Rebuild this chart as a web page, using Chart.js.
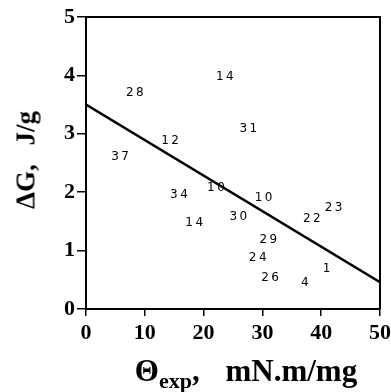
<!DOCTYPE html>
<html>
<head>
<meta charset="utf-8">
<script src="https://cdn.jsdelivr.net/npm/chart.js@4.4.1/dist/chart.umd.min.js"></script>
<style>
    html, body { margin: 0; padding: 0; background: #fff; }
    #wrap { position: relative; width: 391px; height: 392px; }
    #chart { position: absolute; left: 0; top: 0; }
    .axis-title {
        position: absolute;
        font: bold 27px "Liberation Serif", "Times New Roman", serif;
        color: #000;
        white-space: nowrap;
    }
    #yTitle {
        left: 26px; top: 160px;
        transform: translate(-50%, -50%) rotate(-90deg);
        word-spacing: 12px;
    }
    #xTitle {
        left: 246px; top: 371px;
        font-size: 31px;
        transform: translate(-50%, -50%);
        word-spacing: 18px;
    }
    #xTitle sub { font-size: 22px; vertical-align: -7px; line-height: 0; }
</style>
</head>
<body>
<div id="wrap">
    <canvas id="chart" width="391" height="392"></canvas>
    <div id="yTitle" class="axis-title">ΔG, J/g</div>
    <div id="xTitle" class="axis-title">Θ<sub>exp</sub>, mN.m/mg</div>
</div>
<script>
// sample numbers written at each point
const pointLabels = ['28', '14', '12', '37', '34', '10', '14', '30', '10', '22', '23', '29', '24', '26', '4', '1', '31'];
const thetaExp = [8.3, 23.6, 14.3, 5.8, 15.8, 22.1, 18.4, 25.9, 30.2, 38.4, 42.1, 31.0, 29.2, 31.3, 37.2, 40.9, 27.6];
const deltaG = [3.70, 3.97, 2.88, 2.60, 1.95, 2.08, 1.48, 1.57, 1.91, 1.55, 1.74, 1.18, 0.87, 0.54, 0.45, 0.68, 3.09];

// regression line end points
const fitTheta = [0, 50];
const fitDeltaG = [3.5, 0.46];

const xTicks = [0, 10, 20, 30, 40, 50];
const yTicks = [0, 1, 2, 3, 4, 5];

const tickFont = { family: 'Liberation Serif', weight: 'bold', size: 22 };

// draws the sample number centred on each (hidden) point
const numberLabels = {
    id: 'numberLabels',
    afterDatasetsDraw(chart) {
        const ctx = chart.ctx;
        const meta = chart.getDatasetMeta(0);
        const spacing = 2.5;
        ctx.save();
        ctx.font = '12px "DejaVu Sans", sans-serif';
        ctx.fillStyle = '#000';
        ctx.textBaseline = 'middle';
        ctx.textAlign = 'left';
        meta.data.forEach((pt, i) => {
            const txt = pointLabels[i];
            let w = 0;
            for (const ch of txt) w += ctx.measureText(ch).width;
            w += spacing * (txt.length - 1);
            let x = pt.x - w / 2;
            for (const ch of txt) {
                ctx.fillText(ch, x, pt.y);
                x += ctx.measureText(ch).width + spacing;
            }
        });
        ctx.restore();
    }
};

// top and right edges of the box
const frame = {
    id: 'frame',
    afterDraw(chart) {
        const { ctx, chartArea: a } = chart;
        ctx.save();
        ctx.strokeStyle = '#000';
        ctx.lineWidth = 2;
        ctx.beginPath();
        ctx.moveTo(a.left, a.top);
        ctx.lineTo(a.right, a.top);
        ctx.lineTo(a.right, a.bottom);
        ctx.stroke();
        ctx.restore();
    }
};

new Chart(document.getElementById('chart'), {
    type: 'scatter',
    data: {
        datasets: [{
            label: 'samples',
            data: thetaExp.map((x, i) => ({ x: x, y: deltaG[i] })),
            pointRadius: 0,
            showLine: false
        }, {
            label: 'fit',
            data: fitTheta.map((x, i) => ({ x: x, y: fitDeltaG[i] })),
            showLine: true,
            borderColor: '#000',
            borderWidth: 2.5,
            pointRadius: 0
        }]
    },
    options: {
        responsive: false,
        animation: false,
        events: [],
        layout: { padding: { top: 17, right: 11, left: 0, bottom: 0 } },
        plugins: {
            legend: { display: false },
            tooltip: { enabled: false }
        },
        scales: {
            x: {
                type: 'linear',
                min: 0,
                max: 50,
                afterBuildTicks: axis => { axis.ticks = xTicks.map(v => ({ value: v })); },
                afterFit: axis => { axis.height = 83; axis.paddingRight = 0; },
                grid: { display: true, drawOnChartArea: false, drawTicks: true, tickLength: 7, color: '#000', lineWidth: 1.5 },
                border: { display: true, color: '#000', width: 2 },
                ticks: { font: tickFont, color: '#000', padding: 4, maxRotation: 0 }
            },
            y: {
                type: 'linear',
                min: 0,
                max: 5,
                afterBuildTicks: axis => { axis.ticks = yTicks.map(v => ({ value: v })); },
                afterFit: axis => { axis.width = 86; axis.paddingTop = 0; axis.paddingBottom = 0; },
                grid: { display: true, drawOnChartArea: false, drawTicks: true, tickLength: 9, color: '#000', lineWidth: 1.5 },
                border: { display: true, color: '#000', width: 2 },
                ticks: { font: tickFont, color: '#000', padding: 2 }
            }
        }
    },
    plugins: [numberLabels, frame]
});
</script>
</body>
</html>
